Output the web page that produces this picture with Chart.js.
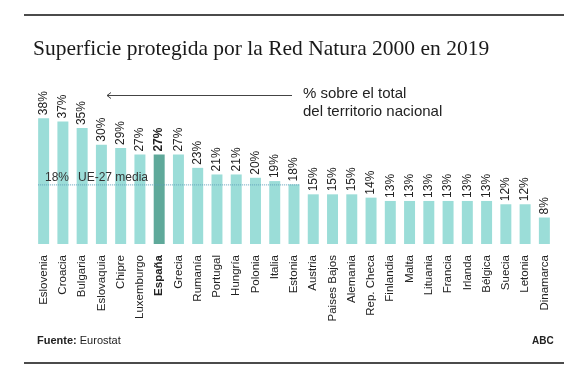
<!DOCTYPE html>
<html>
<head>
  <meta charset="utf-8">
  <title>Superficie protegida por la Red Natura 2000 en 2019</title>
  <script src="https://cdn.jsdelivr.net/npm/chart.js@4.4.0/dist/chart.umd.min.js"></script>
  <style>
    html, body {
      margin: 0;
      padding: 0;
      background: #fff;
    }
    .wrap {
      position: relative;
      width: 584px;
      height: 376px;
    }
  </style>
</head>
<body>
  <div class="wrap">
    <canvas id="grafico" width="584" height="376"></canvas>
  </div>

  <script>
    // datos (Eurostat, % del territorio nacional)
    const paises = ['Eslovenia', 'Croacia', 'Bulgaria', 'Eslovaquia', 'Chipre', 'Luxemburgo', 'España',
      'Grecia', 'Rumanía', 'Portugal', 'Hungría', 'Polonia', 'Italia', 'Estonia', 'Austria',
      'Paises Bajos', 'Alemania', 'Rep. Checa', 'Finlandia', 'Malta', 'Lituania', 'Francia',
      'Irlanda', 'Bélgica', 'Suecia', 'Letonia', 'Dinamarca'];
    const valores = [38, 37, 35, 30, 29, 27, 27, 27, 23, 21, 21, 20, 19, 18, 15, 15, 15, 14, 13, 13, 13, 13, 13, 13, 12, 12, 8];
    const destacado = 'España';
    const mediaUE = 18;

    const titulo = 'Superficie protegida por la Red Natura 2000 en 2019';
    const nota = ['% sobre el total', 'del territorio nacional'];

    const colorBarra = '#9bddd8';
    const colorDestacado = '#5fa99a';
    const sans = 'Arial, "Liberation Sans", sans-serif';

    // titulo, lineas, flecha, etiquetas de valor y media
    const extras = {
      id: 'extras',
      afterDraw(chart) {
        const c = chart.ctx;
        const x = chart.scales.x;
        const y = chart.scales.y;
        c.save();

        // lineas arriba y abajo
        c.strokeStyle = '#111';
        c.lineWidth = 1.5;
        c.beginPath();
        c.moveTo(24, 15); c.lineTo(564, 15);
        c.moveTo(24, 363); c.lineTo(564, 363);
        c.stroke();

        // titulo
        c.fillStyle = '#1a1a1a';
        c.font = '21.5px "Liberation Serif", "DejaVu Serif", serif';
        c.textAlign = 'left';
        c.textBaseline = 'alphabetic';
        c.fillText(titulo, 33, 55);

        // linea media UE
        const meta = chart.getDatasetMeta(0);
        const ancho = meta.data[0].width;
        const yMedia = y.getPixelForValue(mediaUE);
        let ultimo = 0;
        valores.forEach((v, i) => { if (v >= mediaUE) ultimo = i; });
        c.strokeStyle = '#5f9fba';
        c.lineWidth = 1;
        c.setLineDash([1, 1]);
        c.beginPath();
        c.moveTo(x.getPixelForValue(0) - ancho / 2, yMedia + 0.5);
        c.lineTo(x.getPixelForValue(ultimo) + ancho / 2, yMedia + 0.5);
        c.stroke();
        c.setLineDash([]);

        c.fillStyle = '#333';
        c.font = '12px ' + sans;
        c.textBaseline = 'middle';
        c.fillText(mediaUE + '%', 45, yMedia - 7);
        c.fillText('UE-27 media', 78, yMedia - 7);

        // etiquetas de valor giradas
        meta.data.forEach((bar, i) => {
          c.save();
          c.translate(bar.x, bar.y - 3);
          c.rotate(-Math.PI / 2);
          c.font = (paises[i] === destacado ? 'bold ' : '') + '12px ' + sans;
          c.fillStyle = '#222';
          c.textAlign = 'left';
          c.textBaseline = 'middle';
          c.fillText(valores[i] + '%', 0, 0);
          c.restore();
        });

        // flecha y nota
        c.strokeStyle = '#444';
        c.lineWidth = 1;
        c.beginPath();
        c.moveTo(292, 95.5); c.lineTo(107, 95.5);
        c.moveTo(111, 92.5); c.lineTo(107, 95.5); c.lineTo(111, 98.5);
        c.stroke();
        c.fillStyle = '#222';
        c.font = '15px ' + sans;
        c.textBaseline = 'alphabetic';
        c.fillText(nota[0], 303, 98);
        c.fillText(nota[1], 303, 116);

        // fuente
        c.font = 'bold 11px ' + sans;
        c.fillStyle = '#222';
        c.textBaseline = 'middle';
        c.fillText('Fuente:', 37, 341);
        const w = c.measureText('Fuente: ').width;
        c.font = '11px ' + sans;
        c.fillText('Eurostat', 37 + w, 341);
        c.font = 'bold 10px ' + sans;
        c.fillText('ABC', 532, 341);

        c.restore();
      }
    };

    const fondo = {
      id: 'fondo',
      beforeDraw(chart) {
        const c = chart.ctx;
        c.save();
        c.fillStyle = '#fff';
        c.fillRect(0, 0, chart.width, chart.height);
        c.restore();
      }
    };

    const ctx = document.getElementById('grafico').getContext('2d');
    new Chart(ctx, {
      type: 'bar',
      data: {
        labels: paises,
        datasets: [{
          data: valores,
          backgroundColor: paises.map(p => p === destacado ? colorDestacado : colorBarra),
          borderWidth: 0,
          barPercentage: 1,
          categoryPercentage: 0.57
        }]
      },
      options: {
        responsive: false,
        animation: false,
        events: [],
        layout: {
          padding: { top: 95, left: 34, right: 30, bottom: 0 }
        },
        plugins: {
          legend: { display: false },
          tooltip: { enabled: false }
        },
        scales: {
          y: {
            display: false,
            min: 0,
            max: 45
          },
          x: {
            grid: { display: false, drawTicks: false },
            border: { display: false },
            afterFit(s) { s.height = 132; },
            ticks: {
              padding: 11,
              minRotation: 90,
              maxRotation: 90,
              autoSkip: false,
              color: '#222',
              font: (ctx) => ({
                family: sans,
                size: 11.5,
                weight: paises[ctx.index] === destacado ? 'bold' : 'normal'
              })
            }
          }
        }
      },
      plugins: [fondo, extras]
    });
  </script>
</body>
</html>
